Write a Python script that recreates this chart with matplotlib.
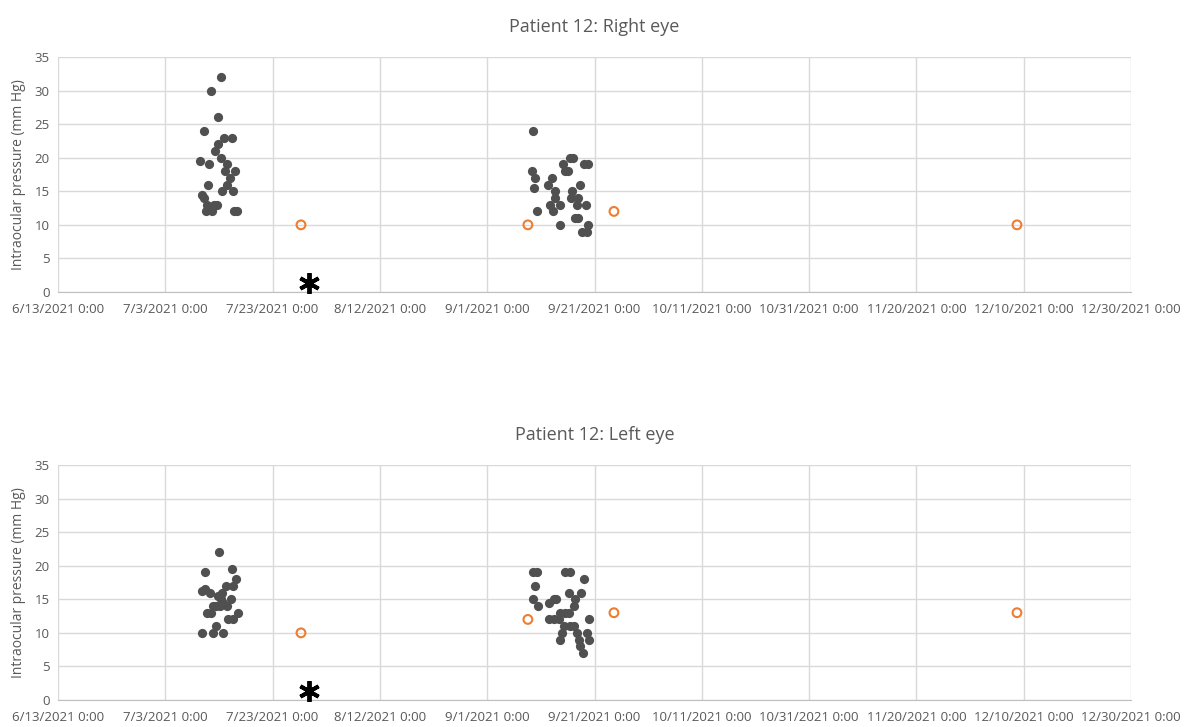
import matplotlib
matplotlib.use("Agg")
import matplotlib.pyplot as plt
import matplotlib.dates as mdates
from matplotlib.ticker import FuncFormatter
import pandas as pd

plt.rcParams['font.family'] = ['Open Sans', 'DejaVu Sans']

# ---------------- data ----------------
right_dates = [
    "2021-07-13 08:00", "2021-07-11 11:00", "2021-07-12 21:00", "2021-07-10 05:00",
    "2021-07-13 21:00", "2021-07-15 12:00", "2021-07-12 18:00", "2021-07-12 08:00",
    "2021-07-13 11:00", "2021-07-09 12:00", "2021-07-11 04:00", "2021-07-14 12:00",
    "2021-07-14 05:00", "2021-07-16 02:00", "2021-07-15 03:00", "2021-07-14 10:00",
    "2021-07-10 21:00", "2021-07-13 14:00", "2021-07-15 17:00", "2021-07-09 20:00",
    "2021-07-10 03:00", "2021-07-10 18:00", "2021-07-12 00:30", "2021-07-12 15:00",
    "2021-07-10 12:00", "2021-07-11 17:00", "2021-07-15 19:00", "2021-07-16 09:00",
    "2021-09-09 13:00", "2021-09-16 10:00", "2021-09-16 23:45", "2021-09-15 05:00",
    "2021-09-18 23:00", "2021-09-19 21:00", "2021-09-15 14:00", "2021-09-16 01:30",
    "2021-09-09 08:30", "2021-09-09 23:00", "2021-09-12 23:45", "2021-09-12 06:00",
    "2021-09-18 07:00", "2021-09-09 17:00", "2021-09-13 17:30", "2021-09-16 18:00",
    "2021-09-13 15:00", "2021-09-16 15:00", "2021-09-17 22:00", "2021-09-12 17:00",
    "2021-09-14 13:30", "2021-09-17 16:00", "2021-09-19 08:00", "2021-09-13 08:30",
    "2021-09-10 08:00", "2021-09-14 13:30", "2021-09-17 08:30", "2021-09-17 20:00",
    "2021-09-19 19:00", "2021-09-18 14:30", "2021-09-19 13:00",
]
right_iop = [
    32, 30, 26, 24, 23, 23, 22, 21, 20, 19.5, 19, 19, 18, 18, 17, 16, 16, 15, 15,
    14.5, 14, 13, 13, 13, 12, 12, 12, 12,
    24, 20, 20, 19, 19, 19, 18, 18, 18, 17, 17, 16, 16, 15.5, 15, 15, 14, 14, 14,
    13, 13, 13, 13, 12, 12, 10, 11, 11, 10, 9, 9,
]

left_dates = [
    "2021-07-12 23:00", "2021-07-10 11:00", "2021-07-15 12:00", "2021-07-16 06:30",
    "2021-07-15 15:00", "2021-07-14 07:30", "2021-07-09 18:00", "2021-07-10 09:30",
    "2021-07-11 10:00", "2021-07-13 14:00", "2021-07-13 07:00", "2021-07-15 04:30",
    "2021-07-11 21:30", "2021-07-12 13:00", "2021-07-13 05:00", "2021-07-14 10:30",
    "2021-07-10 16:30", "2021-07-11 14:30", "2021-07-16 11:00", "2021-07-14 18:00",
    "2021-07-15 16:00", "2021-07-12 11:00", "2021-07-09 19:00", "2021-07-11 23:00",
    "2021-07-13 17:00", "2021-07-12 20:00", "2021-07-13 20:00",
    "2021-09-09 13:00", "2021-09-10 07:00", "2021-09-15 14:00", "2021-09-16 10:00",
    "2021-09-18 23:45", "2021-09-09 20:30", "2021-09-16 04:30", "2021-09-18 13:00",
    "2021-09-09 11:30", "2021-09-12 11:00", "2021-09-13 09:30", "2021-09-13 21:00",
    "2021-09-17 10:00", "2021-09-10 11:00", "2021-09-17 03:00", "2021-09-12 11:00",
    "2021-09-13 09:30", "2021-09-14 08:00", "2021-09-14 15:00", "2021-09-15 13:30",
    "2021-09-16 04:30", "2021-09-19 22:00", "2021-09-15 06:00", "2021-09-16 12:00",
    "2021-09-17 03:00", "2021-09-14 22:30", "2021-09-17 17:30", "2021-09-19 14:30",
    "2021-09-14 15:00", "2021-09-18 01:00", "2021-09-19 22:00", "2021-09-18 08:30",
    "2021-09-18 19:00",
]
left_iop = [
    22, 19, 19.5, 18, 17, 17, 16.3, 16.5, 16, 16, 15, 15, 14, 14, 14, 14, 13, 13,
    13, 12, 12, 11, 10, 10, 10, 15.5, 14.5,
    19, 19, 19, 19, 18, 17, 16, 16, 15, 14.5, 15, 15, 15, 14, 14, 12, 12, 12,
    13, 13, 13, 12, 11, 11, 11, 10, 10, 10, 9, 9, 9, 8, 7,
]

clinic_dates = ["2021-07-28 07:00", "2021-09-08 14:00", "2021-09-24 15:00", "2021-12-08 18:00"]
right_clinic_iop = [10, 10, 12, 10]
left_clinic_iop = [10, 12, 13, 13]

event_dates = ["2021-07-29 19:00"]
event_level = [1.3]
titles = ["Patient 12: Right eye", "Patient 12: Left eye"]
ylabel = "Intraocular pressure (mm Hg)"
x_start, x_end, x_step_days = "2021-06-13", "2021-12-30", 20
y_ticks = [0, 5, 10, 15, 20, 25, 30, 35]

# ---------------- plotting ----------------
fig = plt.figure(figsize=(11.89, 7.27), dpi=100)
axes_rects = [
    [58 / 1189, 1 - 292 / 727, 1073 / 1189, 235 / 727],
    [58 / 1189, 1 - 700 / 727, 1073 / 1189, 235 / 727],
]

xticks = pd.date_range(x_start, x_end, freq=f"{x_step_days}D")

def fmt(x, pos):
    d = mdates.num2date(x)
    return f"{d.month}/{d.day}/{d.year} 0:00"

datasets = [(right_dates, right_iop, right_clinic_iop), (left_dates, left_iop, left_clinic_iop)]
for rect, title, (dts, vals, cvals) in zip(axes_rects, titles, datasets):
    ax = fig.add_axes(rect)
    ax.set_xlim(pd.Timestamp(x_start), pd.Timestamp(x_end))
    ax.set_ylim(0, 35)
    ax.set_xticks(xticks)
    ax.xaxis.set_major_formatter(FuncFormatter(fmt))
    ax.set_yticks(y_ticks)
    ax.grid(True, color="#d9d9d9", linewidth=1.0)
    ax.set_axisbelow(True)
    for s in ["top", "right", "left"]:
        ax.spines[s].set_visible(False)
    ax.spines["bottom"].set_color("#bfbfbf")
    ax.tick_params(length=0, labelsize=9.5, colors="#595959", pad=8)
    ax.tick_params(axis="y", pad=6)

    ax.scatter(pd.to_datetime(dts), vals, s=44, color="#505050", zorder=3, linewidths=0)
    ax.scatter(pd.to_datetime(clinic_dates), cvals, s=40, facecolors="none",
               edgecolors="#ED7D31", linewidths=1.5, zorder=3)
    # event marker (asterisk)
    ax.plot(pd.to_datetime(event_dates), event_level, linestyle="none",
            marker=(6, 2, 0), markersize=15, markeredgewidth=2.8,
            color="black", zorder=4, clip_on=False)
    ax.set_title(title, fontsize=13, color="#595959", pad=18)
    ax.set_ylabel(ylabel, fontsize=10, color="#595959", labelpad=6)

fig.savefig("out.png", dpi=100)
